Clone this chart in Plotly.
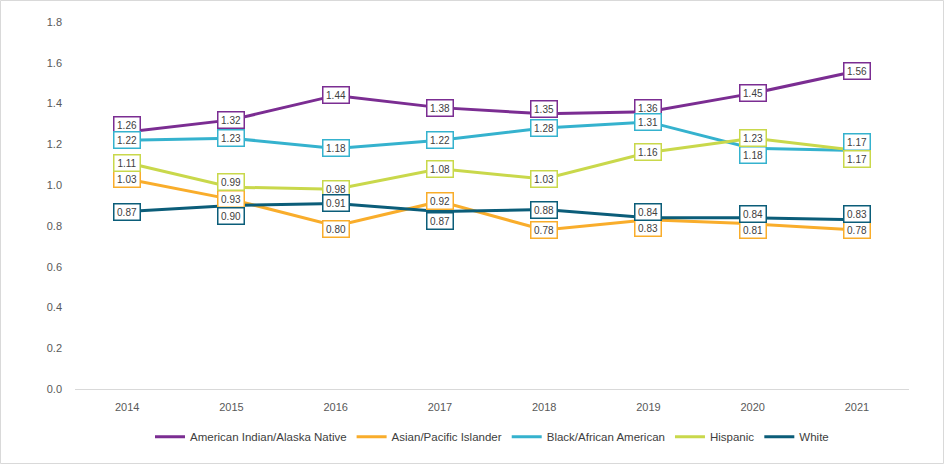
import plotly.graph_objects as go

years = ["2014", "2015", "2016", "2017", "2018", "2019", "2020", "2021"]
american_indian = [1.26, 1.32, 1.44, 1.38, 1.35, 1.36, 1.45, 1.56]
asian_pi = [1.03, 0.93, 0.80, 0.92, 0.78, 0.83, 0.81, 0.78]
black = [1.22, 1.23, 1.18, 1.22, 1.28, 1.31, 1.18, 1.17]
hispanic = [1.11, 0.99, 0.98, 1.08, 1.03, 1.16, 1.23, 1.17]
white = [0.87, 0.90, 0.91, 0.87, 0.88, 0.84, 0.84, 0.83]

series = [
    ("American Indian/Alaska Native", american_indian, "#7B2D92"),
    ("Asian/Pacific Islander", asian_pi, "#F9AD2B"),
    ("Black/African American", black, "#35B2CE"),
    ("Hispanic", hispanic, "#C9D84B"),
    ("White", white, "#0B5D79"),
]

# label vertical offsets in px (positive = up), style only
label_shift = {
    "American Indian/Alaska Native": [7, 0, 0, 0, 5, 4, 0, 0],
    "Asian/Pacific Islander": [0, 0, -3, 0, 0, -8, -6, 0],
    "Black/African American": [0, 0, 0, 0, 0, 0, -7, 8],
    "Hispanic": [0, 5, 0, 0, 0, 0, 0, -9],
    "White": [0, -10, 0, -9, 0, 6, 4, 6],
}

fig = go.Figure()
annotations = []
for name, vals, color in series:
    fig.add_trace(go.Scatter(
        x=years, y=vals, name=name, mode="lines",
        line=dict(color=color, width=3),
    ))
    for i, (v, s) in enumerate(zip(vals, label_shift[name])):
        annotations.append(dict(
            x=i, y=v, xref="x", yref="y", text=f"{v:.2f}", showarrow=False,
            yshift=s, font=dict(size=10, color="#404040", family="Liberation Sans"),
            bgcolor="white", bordercolor=color, borderwidth=1.5, borderpad=1,
            width=23, height=13,
        ))

W, H = 944, 464
ml, mr, mt, mb = 75, 35, 22, 75
pw, ph = W - ml - mr, H - mt - mb

fig.update_layout(
    width=W, height=H,
    margin=dict(l=ml, r=mr, t=mt, b=mb),
    paper_bgcolor="white", plot_bgcolor="white",
    font=dict(family="Liberation Sans", size=11, color="#595959"),
    showlegend=True,
    legend=dict(orientation="h", x=0.5, xanchor="center", y=-0.13, yanchor="middle",
                font=dict(size=11.5, color="#404040",
                          family="Liberation Sans Narrow, Liberation Sans"),
                itemwidth=30, traceorder="normal"),
    annotations=annotations,
    shapes=[dict(type="rect", xref="paper", yref="paper",
                 x0=-(ml - 0.5) / pw, x1=1 + (mr - 0.5) / pw,
                 y0=-(mb - 0.5) / ph, y1=1 + (mt - 0.5) / ph,
                 line=dict(color="#D9D9D9", width=1), layer="below")],
)
fig.update_xaxes(type="category", range=[-0.5, 7.5],
                 showgrid=False, showline=True, linecolor="#D9D9D9", linewidth=1,
                 ticks="", ticklabelstandoff=8, zeroline=False,
                 tickfont=dict(size=11, color="#595959"))
fig.update_yaxes(range=[0, 1.8], dtick=0.2, tickformat=".1f", showgrid=False,
                 zeroline=False, showline=False, ticks="", ticklabelstandoff=12,
                 tickfont=dict(size=11, color="#595959"))

fig.write_html("out.html", config={"displayModeBar": False},
               post_script="document.body.style.margin='0';")
